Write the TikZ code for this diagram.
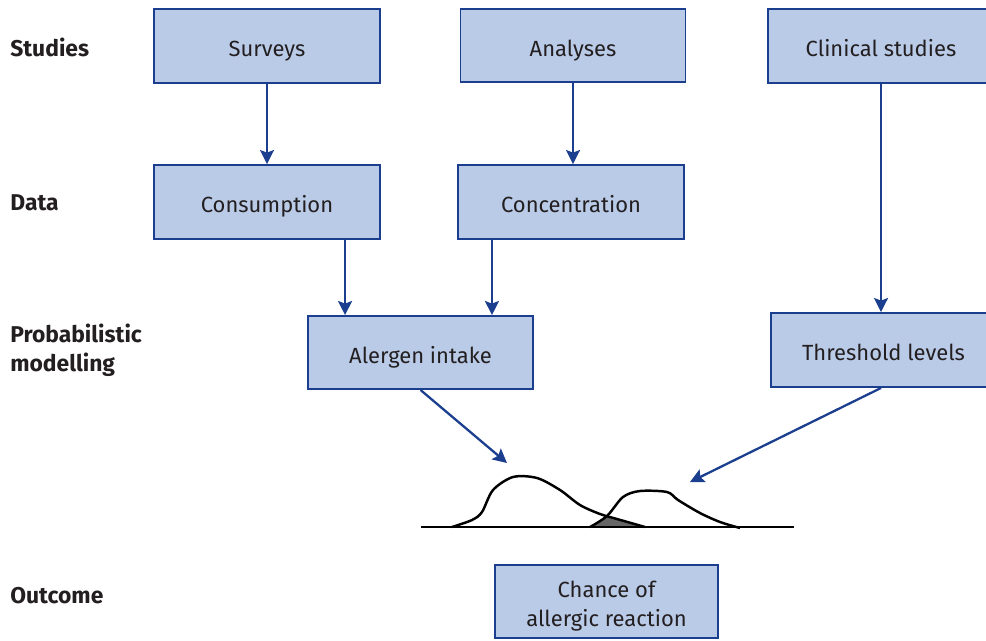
\documentclass[tikz,border=0pt]{standalone}
\usepackage{fontspec}
\setmainfont{Fira Sans}
\usepackage{xcolor}
\usetikzlibrary{arrows.meta}
\definecolor{boxfill}{HTML}{BACBE8}
\definecolor{boxline}{HTML}{1B3F8E}
\definecolor{txt}{HTML}{231F20}
\begin{document}
\begin{tikzpicture}[x=0.02cm,y=-0.02cm,
box/.style={draw=boxline,fill=boxfill,line width=1.1pt,text=txt,font=\fontsize{12.5}{16.5}\selectfont,align=center,inner sep=0pt,text height=12pt,text depth=0pt},
arr/.style={draw=boxline,line width=1.3pt,-{Stealth[length=8pt,width=8pt,inset=1.5pt]}},
lbl/.style={anchor=west,font=\fontsize{13}{16.5}\selectfont\bfseries,text=txt,align=left,inner sep=0pt}]
\useasboundingbox(0,0)rectangle(986,640);
\node[lbl](st)at(10,47){Studies};
\node[lbl](da)at(10,203){Data};
\node[lbl](pm)at(10,350){Probabilistic\\modelling};
\node[lbl](oc)at(10,596){Outcome};
\node[box,minimum width=4.52cm,minimum height=1.48cm](surv)at(267,46){Surveys};
\node[box,minimum width=4.5cm,minimum height=1.46cm](anal)at(573,45.5){Analyses};
\node[box,minimum width=4.52cm,minimum height=1.48cm](clin)at(881,46){Clinical studies};
\node[box,minimum width=4.52cm,minimum height=1.48cm](cons)at(267,202){Consumption};
\node[box,minimum width=4.52cm,minimum height=1.48cm](conc)at(571,202){Concentration};
\node[box,minimum width=4.5cm,minimum height=1.46cm](ale)at(420.5,352.5){Alergen intake};
\node[box,minimum width=4.5cm,minimum height=1.48cm](thr)at(883.5,350){Threshold levels};
\node[box,minimum width=4.46cm,minimum height=1.46cm,text height=28.5pt](out)at(606.5,601.5){Chance of\\allergic reaction};
\path([xshift=0.76cm]ale.north west)coordinate(a1)
([xshift=-0.84cm]ale.north east)coordinate(a2);
\coordinate(pk1)at(507,463);
\coordinate(pk2)at(690,482);
\draw[arr](surv)--(cons);
\draw[arr](anal.south)--(anal.south|-conc.north);
\draw[arr](clin.south)--(clin.south|-thr.north);
\draw[arr](cons.south-|a1)--(a1);
\draw[arr](conc.south-|a2)--(a2);
\draw[arr](ale.south)--(pk1);
\draw[arr](clin.south|-thr.south)--(pk2);
\fill[black!60](590,527)--(600,520)--(607,516)--(617,519)--(630,523)--(645,527)--cycle;
\draw[line width=0.8pt](421,527)--(794,527);
\draw[line width=1.4pt,smooth]plot coordinates{(452,527)(472,520)(482,512)(493,490)(513,477)(537,478)(560,490)(580,505)(600,514)(617,519)(645,527)};
\draw[line width=1.4pt,smooth]plot coordinates{(590,527)(607,516)(623,497)(640,491)(667,492)(678,500)(700,513)(720,522)(740,528)};
\end{tikzpicture}
\end{document}
